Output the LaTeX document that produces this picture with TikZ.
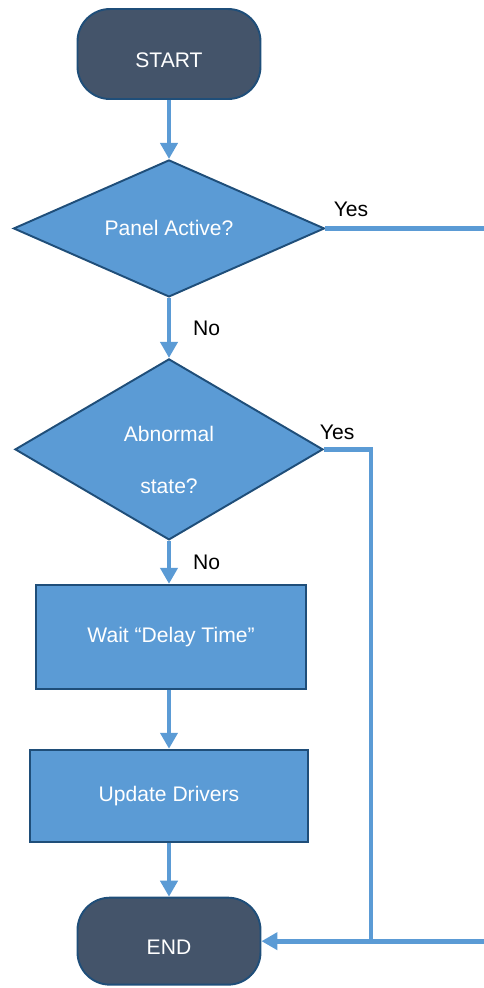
\documentclass[tikz,border=0pt]{standalone}
\usepackage{fontspec}
\setmainfont{Liberation Sans}
\usetikzlibrary{positioning, shapes.geometric, arrows.meta}
\definecolor{slate}{HTML}{44546A}
\definecolor{sky}{HTML}{5B9BD5}
\definecolor{navy}{HTML}{1F4E79}

\begin{document}
\begin{tikzpicture}[
  font=\fontsize{12}{14}\selectfont,
  node distance=12mm,
  term/.style={draw=navy, fill=slate, text=white, line width=1.1pt, rounded corners=6.5mm,
    minimum width=36.6mm, minimum height=18mm, text height=15.4pt, text depth=0pt},
  decision/.style={diamond, draw=navy, fill=sky, text=white, line width=1.1pt, inner sep=0pt, align=center},
  proc/.style={draw=navy, fill=sky, text=white, line width=1.1pt},
  arr/.style={-{Triangle[length=3.2mm, width=3.4mm]}, draw=sky, line width=2.8pt},
  link/.style={draw=sky, line width=2.8pt},
  lbl/.style={text=black}
]
  \useasboundingbox (0,0) rectangle (9.68,-19.76);

  \node[term] (start) at (3.38,-1.08) {START};
  \node[decision, below=11.8mm of start, aspect=2.27, minimum width=62.2mm, minimum height=27.4mm] (panel) {Panel Active?};
  \node[decision, below=12mm of panel, aspect=1.7, minimum width=61.6mm, minimum height=36.2mm,
    font=\fontsize{12}{29.6}\selectfont] (abnormal) {\rule{0pt}{21pt}Abnormal\\state?};
  \node[proc, below=8.6mm of abnormal, xshift=0.4mm, minimum width=54mm, minimum height=20.8mm] (wait) {Wait “Delay Time”};
  \node[proc, below=11.8mm of wait, xshift=-0.4mm, minimum width=55.6mm, minimum height=18.4mm] (update) {Update Drivers};
  \node[term, below=10.8mm of update, minimum height=17.4mm] (end) {END};

  \draw[arr] (start) -- (panel);
  \draw[arr] (panel) -- node[right, lbl, xshift=9pt] {No} (abnormal);
  \draw[arr] (abnormal.south) -- node[right, lbl, xshift=9pt] {No} (abnormal.south |- wait.north);
  \draw[arr] (wait.south -| update) -- (update);
  \draw[arr] (update) -- (end);

  % Yes branches leave to the right
  \coordinate (rim) at (9.68,0);
  \coordinate (turn) at (7.42,0 |- end.east);
  \draw[link] (panel.east) -- node[pos=0, above right, lbl, yshift=2pt] {Yes} (panel.east -| rim);
  \draw[link] (abnormal.east) -| node[pos=0, above right, lbl, xshift=-7pt, yshift=1pt] {Yes} (turn);
  \draw[arr] (end.east -| rim) -- (end.east);
\end{tikzpicture}
\end{document}
